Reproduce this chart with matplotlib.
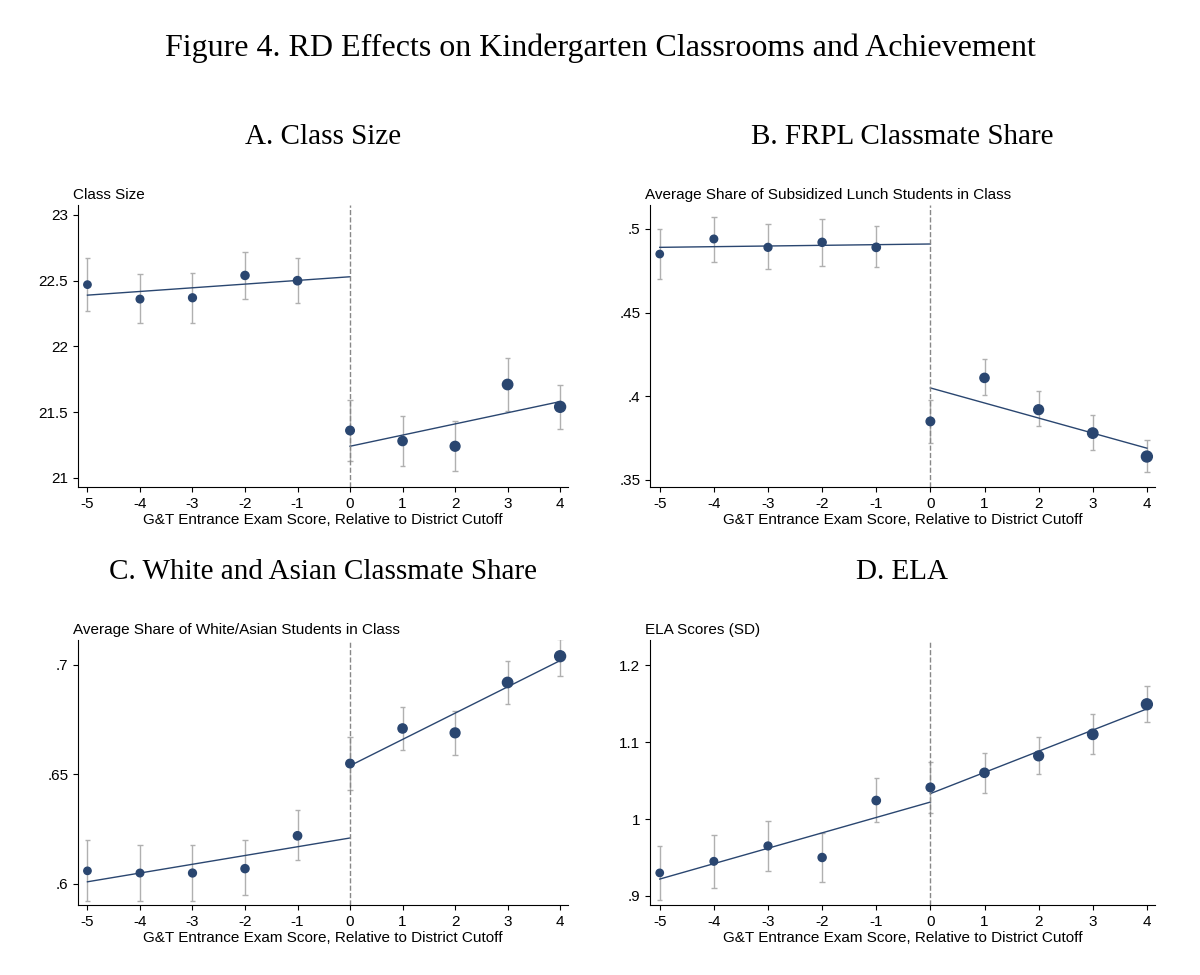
import matplotlib.pyplot as plt
import numpy as np

plt.rcParams['axes.unicode_minus'] = False
plt.rcParams['font.family'] = ['Liberation Sans', 'DejaVu Sans']

NAVY = '#2a4670'
CI_GRAY = '#b0b0b0'

x = np.arange(-5, 5)
sizes = [28, 30, 32, 34, 36, 38, 44, 50, 56, 62]

# Panel A: class size
a_pt = [22.47, 22.36, 22.37, 22.54, 22.50, 21.36, 21.28, 21.24, 21.71, 21.54]
a_lo = [22.27, 22.18, 22.18, 22.36, 22.33, 21.13, 21.09, 21.05, 21.51, 21.37]
a_hi = [22.67, 22.55, 22.56, 22.72, 22.67, 21.59, 21.47, 21.43, 21.91, 21.71]
a_fit = [(22.39, 22.53), (21.24, 21.58)]

# Panel B: FRPL share
b_pt = [.485, .494, .489, .492, .489, .385, .411, .392, .378, .364]
b_lo = [.470, .480, .476, .478, .477, .372, .401, .382, .368, .355]
b_hi = [.500, .507, .503, .506, .502, .398, .422, .403, .389, .374]
b_fit = [(.489, .491), (.405, .369)]

# Panel C: white/asian share
c_pt = [.606, .605, .605, .607, .622, .655, .671, .669, .692, .704]
c_lo = [.592, .592, .592, .595, .611, .643, .661, .659, .682, .695]
c_hi = [.620, .618, .618, .620, .634, .667, .681, .679, .702, .712]
c_fit = [(.601, .621), (.654, .702)]

# Panel D: ELA
d_pt = [.930, .945, .965, .950, 1.024, 1.041, 1.060, 1.082, 1.110, 1.149]
d_lo = [.895, .911, .933, .918, .996, 1.008, 1.034, 1.058, 1.085, 1.126]
d_hi = [.965, .979, .997, .982, 1.053, 1.074, 1.086, 1.106, 1.136, 1.173]
d_fit = [(.922, 1.022), (1.033, 1.143)]

panels = [
    ('A. Class Size', 'Class Size', a_pt, a_lo, a_hi, a_fit,
     (20.93, 23.076), [21, 21.5, 22, 22.5, 23], ['21', '21.5', '22', '22.5', '23']),
    ('B. FRPL Classmate Share', 'Average Share of Subsidized Lunch Students in Class',
     b_pt, b_lo, b_hi, b_fit, (.3458, .5143), [.35, .4, .45, .5], ['.35', '.4', '.45', '.5']),
    ('C. White and Asian Classmate Share', 'Average Share of White/Asian Students in Class',
     c_pt, c_lo, c_hi, c_fit, (.5904, .7114), [.6, .65, .7], ['.6', '.65', '.7']),
    ('D. ELA', 'ELA Scores (SD)', d_pt, d_lo, d_hi, d_fit,
     (.8883, 1.2325), [.9, 1, 1.1, 1.2], ['.9', '1', '1.1', '1.2']),
]

W, H = 1200, 975
fig = plt.figure(figsize=(12, 9.75), dpi=100)
fig.text(0.5, 1 - 48 / H, 'Figure 4. RD Effects on Kindergarten Classrooms and Achievement',
         ha='center', va='center', fontsize=23, family='Liberation Serif')

boxes = [(78, 205, 568, 487), (650, 205, 1155, 487),
         (78, 640, 568, 905), (650, 640, 1155, 905)]

for (title, ylab, pt, lo, hi, fit, ylim, yt, ytl), (l, t, r, b) in zip(panels, boxes):
    ax = fig.add_axes([l / W, 1 - b / H, (r - l) / W, (b - t) / H])
    ax.vlines(x, lo, hi, color=CI_GRAY, lw=1)
    ax.hlines(lo, x - 0.05, x + 0.05, color=CI_GRAY, lw=1)
    ax.hlines(hi, x - 0.05, x + 0.05, color=CI_GRAY, lw=1)
    ax.scatter(x, pt, s=sizes, color=NAVY, zorder=3)
    ax.plot([-5, 0], fit[0], color=NAVY, lw=1)
    ax.plot([0, 4], fit[1], color=NAVY, lw=1)
    ax.axvline(0, color='#888888', ls='--', lw=1)
    ax.set_xlim(-5.18, 4.15)
    ax.set_ylim(*ylim)
    ax.set_xticks(x)
    ax.set_yticks(yt)
    ax.set_yticklabels(ytl)
    ax.tick_params(labelsize=11)
    for s in ['top', 'right']:
        ax.spines[s].set_visible(False)
    ax.set_xlabel('G&T Entrance Exam Score, Relative to District Cutoff', fontsize=11, labelpad=2)
    ax.text(-0.01, 1.01, ylab, transform=ax.transAxes, fontsize=11, ha='left', va='bottom')
    ax.set_title(title, fontsize=21, family='Liberation Serif', pad=44)

fig.savefig('out.png', dpi=100, facecolor='white')
